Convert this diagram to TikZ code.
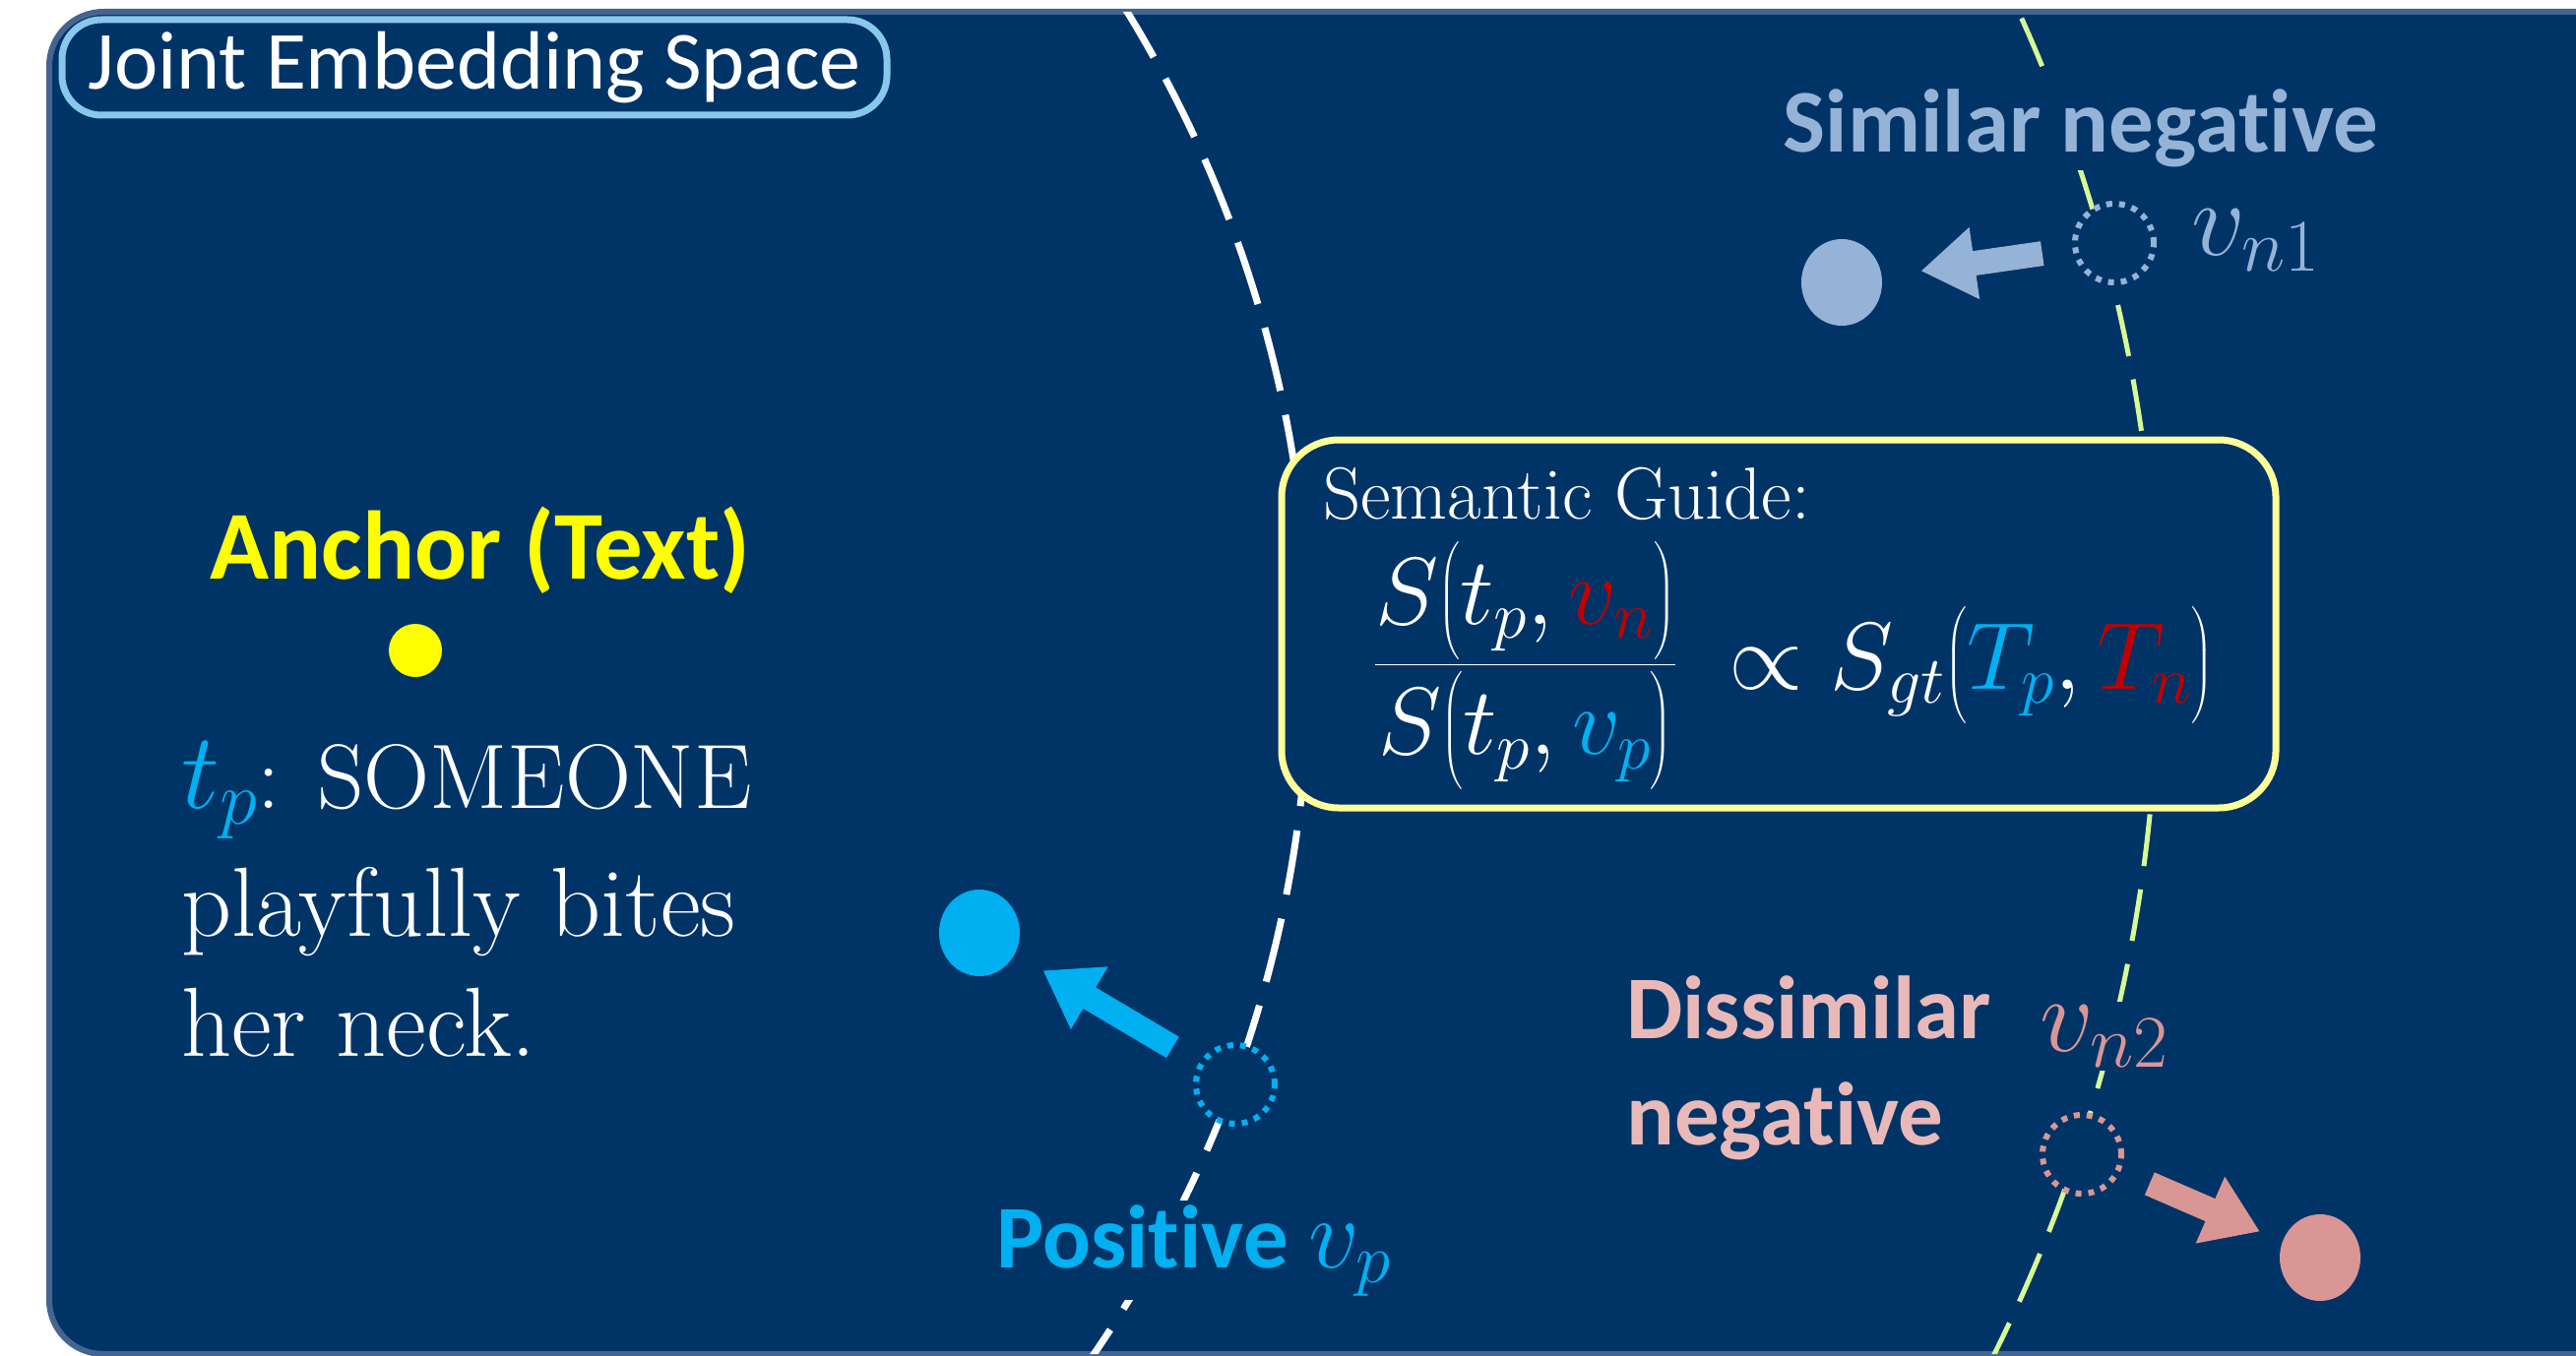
\RequirePackage{fix-cm}
\documentclass[tikz,border=0pt]{standalone}
\usepackage{amsmath}
\usepackage{fontspec}
\newfontfamily\calibri[Ligatures=NoCommon]{Carlito}
\usetikzlibrary{arrows.meta,shapes.geometric}
\definecolor{bg}{RGB}{0,52,103}
\definecolor{bgborder}{RGB}{70,100,145}
\definecolor{jointborder}{RGB}{135,200,235}
\definecolor{simneg}{RGB}{149,179,215}
\definecolor{poscyan}{RGB}{0,176,240}
\definecolor{anchory}{RGB}{255,255,0}
\definecolor{guideborder}{RGB}{255,255,153}
\definecolor{greenline}{RGB}{215,250,150}
\definecolor{dispink}{RGB}{232,185,184}
\definecolor{dispinkdark}{RGB}{217,150,148}
\definecolor{vnred}{RGB}{192,0,0}
\begin{document}
\begin{tikzpicture}[x=1pt,y=-1pt,
  lbl/.style={font=\calibri\bfseries\fontsize{91}{109}\selectfont, inner sep=4pt, fill=bg},
  mathlbl/.style={font=\fontsize{108}{126}\selectfont, inner sep=4pt, fill=bg},
  sertext/.style={font=\fontsize{100}{120}\selectfont, text=white, inner sep=0pt},
  dotc/.style={circle, minimum size=80pt, inner sep=0pt, line width=6pt, dash pattern=on 6pt off 7pt, fill=bg},
  fillc/.style={ellipse, minimum width=82pt, minimum height=88pt, inner sep=0pt},
  barrow/.style={line width=25pt, -{Triangle[length=55pt,width=70pt]}}
]
\useasboundingbox (0,0) rectangle (2617,1378);
% background panel
\draw[fill=bg, draw=bgborder, line width=6pt, rounded corners=55pt] (50,12) rectangle (2720,1376);
% dashed boundary arcs
\begin{scope}
  \clip[rounded corners=55pt] (50,12) rectangle (2720,1376);
  \draw[white, line width=7pt, dash pattern=on 66pt off 25pt] (75,668) circle[radius=1255pt];
  \draw[greenline, line width=5pt, dash pattern=on 53pt off 24pt] (602,668) circle[radius=1590pt];
\end{scope}
% title box
\node[draw=jointborder, line width=7pt, fill=bg, rounded corners=40pt, minimum width=838pt, minimum height=97pt, inner sep=0pt, text=white, font=\calibri\fontsize{84}{100}\selectfont] (joint) at (482,68.5) {\raisebox{-6pt}{Joint Embedding Space}};
% anchor
\node[font=\calibri\bfseries\fontsize{99}{118}\selectfont, text=anchory, anchor=base, inner sep=0pt] (anchorlbl) at (488,588) {Anchor (Text)};
\node[circle, fill=anchory, minimum size=54pt, inner sep=0pt] (anchordot) at (422,661) {};
\node[sertext, font=\fontsize{93}{110}\selectfont, anchor=base west] (tl1) at (184,821) {{\fontsize{110}{120}\selectfont$\textcolor{poscyan}{t_p}$}: SOMEONE};
\node[sertext, anchor=base west] (tl2) at (184,951) {playfully bites};
\node[sertext, anchor=base west] (tl3) at (184,1073) {her neck.};
% similar negative
\node[lbl, text=simneg, anchor=base] (simlbl) at (2114,154) {Similar negative};
\node[dotc, draw=simneg] (n1o) at (2148,247) {};
\node[mathlbl, text=simneg, anchor=base west] (vn1) at (2222,259) {$v_{n1}$};
\node[fillc, fill=simneg] (n1f) at (1871,287) {};
\draw[barrow, simneg, shorten <=31pt, shorten >=40pt] (n1o) -- (n1f);
% semantic guide
\node[draw=guideborder, line width=7pt, fill=bg, rounded corners=58pt, minimum width=1010pt, minimum height=374pt, inner sep=0pt] (guide) at (1807,634) {};
\node[font=\fontsize{75}{90}\selectfont, text=white, anchor=base west, inner sep=0pt] (guidetitle) at (1344,527) {Semantic Guide:};
\node[font=\fontsize{97}{116}\selectfont, text=white, anchor=base west, inner sep=0pt] (formula) at (1396,700)
  {$\dfrac{S\bigl(t_p,\textcolor{vnred}{v_n}\bigr)}{S\bigl(t_p,\textcolor{poscyan}{v_p}\bigr)}\;\propto S_{gt}\bigl(\textcolor{poscyan}{T_p},\textcolor{vnred}{T_n}\bigr)$};
% positive
\node[dotc, draw=poscyan] (po) at (1255,1102) {};
\node[fillc, fill=poscyan] (pf) at (995,948) {};
\draw[barrow, poscyan, shorten <=31pt, shorten >=33pt] (po) -- (pf);
\node[lbl, text=poscyan, anchor=base west] (poslbl) at (1008,1288) {Positive {\fontsize{102}{120}\selectfont$v_p$}};
% dissimilar negative
\node[lbl, text=dispink, anchor=base west, fill=none, inner sep=0pt] (dis1) at (1652,1055) {Dissimilar};
\node[lbl, text=dispink, anchor=base west, fill=none, inner sep=0pt] (dis2) at (1652,1163) {negative};
\node[mathlbl, text=dispinkdark, anchor=base west] (vn2) at (2068,1068) {$v_{n2}$};
\node[dotc, draw=dispinkdark] (n2o) at (2115,1173) {};
\node[fillc, fill=dispinkdark] (n2f) at (2357,1278) {};
\draw[barrow, dispinkdark, shorten <=32pt, shorten >=25pt] (n2o) -- (n2f);
\end{tikzpicture}
\end{document}
